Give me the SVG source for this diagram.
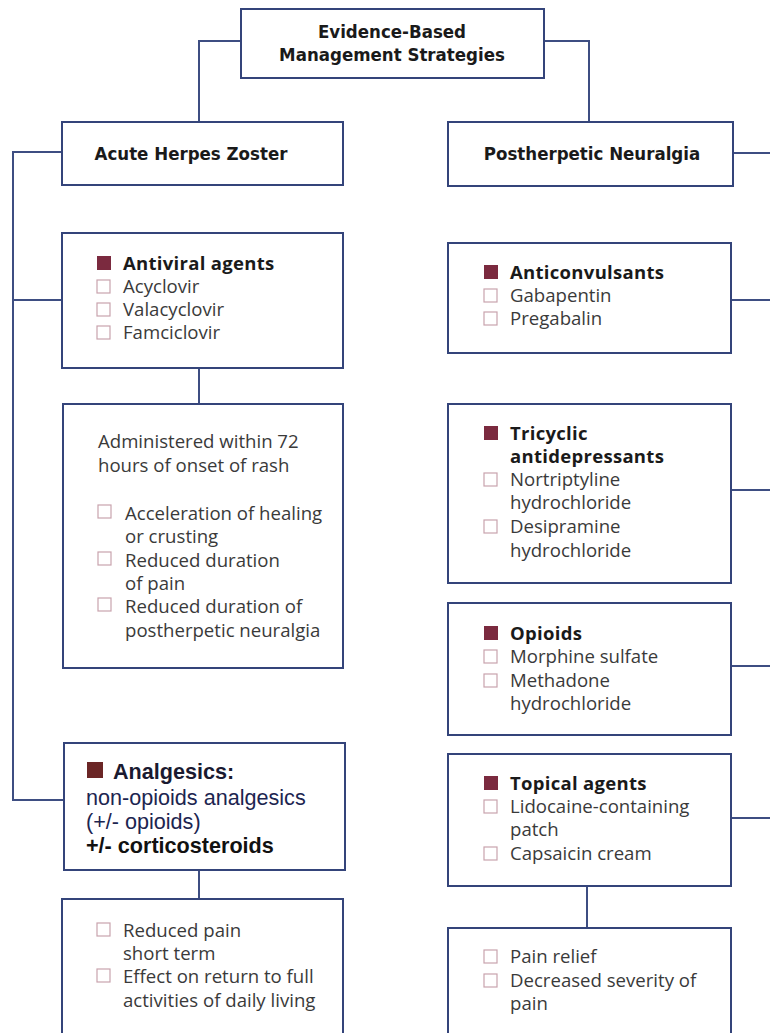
<svg xmlns="http://www.w3.org/2000/svg" width="770" height="1033" viewBox="0 0 770 1033">
<style>
.box{fill:#fff;stroke:#34447a;stroke-width:2}
.con{fill:none;stroke:#3e4e82;stroke-width:2}
.ttl{font-family:"DejaVu Sans Condensed","DejaVu Sans",sans-serif;font-stretch:condensed;font-weight:bold;font-size:18.5px;fill:#1a1a1a;text-anchor:middle}
.t{font-family:"Open Sans","Liberation Sans",sans-serif;font-size:18.6px;fill:#3a3a3a}
.h{font-family:"Open Sans","Liberation Sans",sans-serif;font-size:18.5px;font-weight:bold;fill:#1a1a1a;letter-spacing:0.3px}
.a{font-family:"Liberation Sans",Arial,sans-serif;font-size:21.6px;fill:#1c2550}
.fs{fill:#7b2a3f}
.es{fill:#fff;stroke:#c9a3ad;stroke-width:1.2}
</style>
<rect width="770" height="1033" fill="#fff"/>
<g id="connectors">
<path class="con" d="M241 41H199V122"/>
<path class="con" d="M544 41H589V122"/>
<path class="con" d="M62 152H13V800H64"/>
<path class="con" d="M13 300H62"/>
<path class="con" d="M733 153H770"/>
<path class="con" d="M731 300H770"/>
<path class="con" d="M731 490H770"/>
<path class="con" d="M731 666H770"/>
<path class="con" d="M731 818H770"/>
<path class="con" d="M199 368V404"/>
<path class="con" d="M199 870V899"/>
<path class="con" d="M587 886V928"/>
</g>
<g id="root">
<rect class="box" x="241" y="9" width="303" height="69"/>
<text class="ttl" x="392" y="38">Evidence-Based</text>
<text class="ttl" x="392" y="61">Management Strategies</text>
</g>
<g id="acute">
<rect class="box" x="62" y="122" width="281" height="63"/>
<text class="ttl" x="191" y="160">Acute Herpes Zoster</text>
</g>
<g id="phn">
<rect class="box" x="448" y="122" width="285" height="64"/>
<text class="ttl" x="592" y="160">Postherpetic Neuralgia</text>
</g>
<g id="antiviral">
<rect class="box" x="62" y="233" width="281" height="135"/>
<rect class="fs" x="97" y="256" width="14" height="14"/>
<text class="h" x="123" y="270">Antiviral agents</text>
<rect class="es" x="97" y="280" width="13" height="13"/>
<text class="t" x="123" y="293">Acyclovir</text>
<rect class="es" x="97" y="303" width="13" height="13"/>
<text class="t" x="123" y="316">Valacyclovir</text>
<rect class="es" x="97" y="326" width="13" height="13"/>
<text class="t" x="123" y="339">Famciclovir</text>
</g>
<g id="antiviral-effects">
<rect class="box" x="63" y="404" width="280" height="264"/>
<text class="t" x="98" y="448">Administered within 72</text>
<text class="t" x="98" y="472">hours of onset of rash</text>
<rect class="es" x="98" y="505" width="13" height="13"/>
<text class="t" x="125" y="520">Acceleration of healing</text>
<text class="t" x="125" y="543">or crusting</text>
<rect class="es" x="98" y="552" width="13" height="13"/>
<text class="t" x="125" y="567">Reduced duration</text>
<text class="t" x="125" y="590">of pain</text>
<rect class="es" x="98" y="598" width="13" height="13"/>
<text class="t" x="125" y="613">Reduced duration of</text>
<text class="t" x="125" y="637">postherpetic neuralgia</text>
</g>
<g id="analgesics">
<rect class="box" x="64" y="743" width="281" height="127"/>
<rect x="87" y="762" width="16" height="16" fill="#6b2626"/>
<text class="a" x="113" y="779" style="font-weight:bold;fill:#1a1a30">Analgesics:</text>
<text class="a" x="86" y="805">non-opioids analgesics</text>
<text class="a" x="86" y="829">(+/- opioids)</text>
<text class="a" x="86" y="853" style="font-weight:bold;fill:#111">+/- corticosteroids</text>
</g>
<g id="analgesic-effects">
<rect class="box" x="62" y="899" width="281" height="150"/>
<rect class="es" x="97" y="923" width="13" height="13"/>
<text class="t" x="123" y="937">Reduced pain</text>
<text class="t" x="123" y="960">short term</text>
<rect class="es" x="97" y="969" width="13" height="13"/>
<text class="t" x="123" y="983">Effect on return to full</text>
<text class="t" x="123" y="1007">activities of daily living</text>
</g>
<g id="anticonvulsants">
<rect class="box" x="448" y="243" width="283" height="110"/>
<rect class="fs" x="484" y="265" width="14" height="14"/>
<text class="h" x="510" y="279">Anticonvulsants</text>
<rect class="es" x="484" y="289" width="13" height="13"/>
<text class="t" x="510" y="302">Gabapentin</text>
<rect class="es" x="484" y="312" width="13" height="13"/>
<text class="t" x="510" y="325">Pregabalin</text>
</g>
<g id="tricyclic">
<rect class="box" x="448" y="404" width="283" height="179"/>
<rect class="fs" x="484" y="426" width="14" height="14"/>
<text class="h" x="510" y="440">Tricyclic</text>
<text class="h" x="510" y="463">antidepressants</text>
<rect class="es" x="484" y="473" width="13" height="13"/>
<text class="t" x="510" y="486">Nortriptyline</text>
<text class="t" x="510" y="509">hydrochloride</text>
<rect class="es" x="484" y="520" width="13" height="13"/>
<text class="t" x="510" y="533">Desipramine</text>
<text class="t" x="510" y="557">hydrochloride</text>
</g>
<g id="opioids">
<rect class="box" x="448" y="603" width="283" height="132"/>
<rect class="fs" x="484" y="626" width="14" height="14"/>
<text class="h" x="510" y="640">Opioids</text>
<rect class="es" x="484" y="650" width="13" height="13"/>
<text class="t" x="510" y="663">Morphine sulfate</text>
<rect class="es" x="484" y="674" width="13" height="13"/>
<text class="t" x="510" y="687">Methadone</text>
<text class="t" x="510" y="710">hydrochloride</text>
</g>
<g id="topical">
<rect class="box" x="448" y="754" width="283" height="132"/>
<rect class="fs" x="484" y="776" width="14" height="14"/>
<text class="h" x="510" y="790">Topical agents</text>
<rect class="es" x="484" y="800" width="13" height="13"/>
<text class="t" x="510" y="813">Lidocaine-containing</text>
<text class="t" x="510" y="836">patch</text>
<rect class="es" x="484" y="847" width="13" height="13"/>
<text class="t" x="510" y="860">Capsaicin cream</text>
</g>
<g id="topical-effects">
<rect class="box" x="448" y="928" width="283" height="120"/>
<rect class="es" x="484" y="950" width="13" height="13"/>
<text class="t" x="510" y="963">Pain relief</text>
<rect class="es" x="484" y="974" width="13" height="13"/>
<text class="t" x="510" y="987">Decreased severity of</text>
<text class="t" x="510" y="1010">pain</text>
</g>
</svg>
